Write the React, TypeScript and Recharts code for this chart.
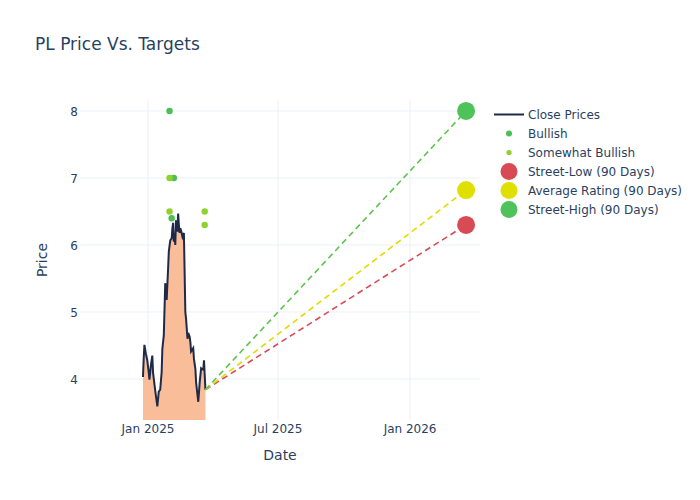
import React from 'react';
import { ComposedChart, Area, Line, Scatter, XAxis, YAxis, CartesianGrid } from 'recharts';

const closeDates = [
  '2024-12-25', '2024-12-26', '2024-12-27', '2024-12-29', '2024-12-31', '2025-01-02', '2025-01-03',
  '2025-01-05', '2025-01-07', '2025-01-08', '2025-01-10', '2025-01-12', '2025-01-14', '2025-01-15',
  '2025-01-16', '2025-01-18', '2025-01-20', '2025-01-21', '2025-01-23', '2025-01-25', '2025-01-26',
  '2025-01-27', '2025-01-29', '2025-01-30', '2025-02-01', '2025-02-03', '2025-02-04', '2025-02-05',
  '2025-02-06', '2025-02-07', '2025-02-08', '2025-02-09', '2025-02-11', '2025-02-12', '2025-02-13',
  '2025-02-14', '2025-02-15', '2025-02-16', '2025-02-18', '2025-02-20', '2025-02-21', '2025-02-22',
  '2025-02-23', '2025-02-24', '2025-02-25', '2025-02-26', '2025-02-28', '2025-03-01', '2025-03-02',
  '2025-03-05', '2025-03-06', '2025-03-08', '2025-03-09', '2025-03-12', '2025-03-13', '2025-03-14',
  '2025-03-16', '2025-03-17', '2025-03-19', '2025-03-20', '2025-03-22',
];
const closeValues = [
  4.03, 4.3, 4.51, 4.38, 4.28, 4.1, 3.99,
  4.2, 4.35, 4.1, 3.92, 3.75, 3.59, 3.7,
  3.81, 3.84, 4.1, 4.45, 4.65, 5.43, 5.35,
  5.18, 5.65, 5.9, 6.07, 6.1, 6.25, 6.33,
  6.05, 6.18, 6.0, 6.37, 6.2, 6.47, 6.3,
  6.18, 6.25, 6.22, 6.12, 6.18, 5.6, 5.0,
  4.9, 4.75, 4.6, 4.69, 4.63, 4.55, 4.41,
  4.46, 4.3, 4.15, 3.95, 3.66, 3.8, 3.95,
  4.16, 4.15, 4.14, 4.28, 3.84,
];

const bullishDates = ['2025-01-31', '2025-02-06', '2025-02-03'];
const bullishValues = [8, 7, 6.4];
const somewhatDates = ['2025-01-31', '2025-01-31', '2025-03-21', '2025-03-21'];
const somewhatValues = [7, 6.5, 6.5, 6.3];

const targetDate = '2026-03-20';
const targetNames = ['Street-Low (90 Days)', 'Average Rating (90 Days)', 'Street-High (90 Days)'];
const targetValues = [6.3, 6.82, 8];
const targetColors = ['#d84b55', '#e0e000', '#4fc35a'];
const lineColors = ['#d84b55', '#e0dc00', '#5cc44c'];

const xTickDates = ['2025-01-01', '2025-07-01', '2026-01-01'];
const yTicks = [4, 5, 6, 7, 8];

const DAY = 86400000;
const ts = (s: string) => Date.parse(s + 'T00:00:00Z');
const T0 = ts('2025-01-01');
const xDomain = [T0 - 94.7 * DAY, T0 + 462.4 * DAY];
const yDomain = [3.388, 8.164];
const MONTHS = ['Jan', 'Feb', 'Mar', 'Apr', 'May', 'Jun', 'Jul', 'Aug', 'Sep', 'Oct', 'Nov', 'Dec'];

const closeData = closeDates.map((d, i) => ({ t: ts(d), close: closeValues[i] }));
const bullishData = bullishDates.map((d, i) => ({ t: ts(d), v: bullishValues[i] }));
const somewhatData = somewhatDates.map((d, i) => ({ t: ts(d), v: somewhatValues[i] }));
const lastClose = closeData[closeData.length - 1];
const targetLines = targetValues.map((v) => [
  { t: lastClose.t, v: lastClose.close },
  { t: ts(targetDate), v },
]);
const targetPoints = targetValues.map((v) => [{ t: ts(targetDate), v }]);

const FONT = '"DejaVu Sans", Verdana, sans-serif';
const TXT = '#2a3f5f';

const dot = (r: number, color: string) => (p: any) => (
  <circle cx={p.cx} cy={p.cy} r={r} fill={color} />
);

const legendItems = [
  { label: 'Close Prices', kind: 'line', color: '#1f2a48' },
  { label: 'Bullish', kind: 'dot', r: 3, color: '#4cbf55' },
  { label: 'Somewhat Bullish', kind: 'dot', r: 2.6, color: '#8fd12e' },
  ...targetNames.map((n, i) => ({ label: n, kind: 'dot', r: 8.5, color: targetColors[i] })),
];

export default function App() {
  return (
    <div style={{ position: 'absolute', left: 0, top: 0, width: 700, height: 500, background: '#fff', fontFamily: FONT }}>
      <div style={{ position: 'absolute', left: 35, top: 34, fontSize: 17, color: TXT, whiteSpace: 'nowrap' }}>
        PL Price Vs. Targets
      </div>
      <ComposedChart width={700} height={500} margin={{ top: 100, right: 220, bottom: 0, left: 0 }}>
        <CartesianGrid
          stroke="#ebf0f8"
          strokeWidth={1}
          horizontalValues={yTicks}
          verticalValues={xTickDates.map(ts)}
        />
        <XAxis
          dataKey="t"
          type="number"
          domain={xDomain}
          allowDataOverflow
          ticks={xTickDates.map(ts)}
          tickFormatter={(v: number) => {
            const d = new Date(v);
            return MONTHS[d.getUTCMonth()] + ' ' + d.getUTCFullYear();
          }}
          height={80}
          axisLine={false}
          tickLine={false}
          tickSize={4}
          tickMargin={0}
          tick={{ fill: TXT, fontSize: 12, fontFamily: FONT }}
          label={{ value: 'Date', position: 'insideTop', offset: 30, fill: TXT, fontSize: 14, fontFamily: FONT }}
        />
        <YAxis
          type="number"
          domain={yDomain}
          allowDataOverflow
          ticks={yTicks}
          width={80}
          axisLine={false}
          tickLine={false}
          tickSize={2}
          tickMargin={0}
          tick={{ fill: TXT, fontSize: 12, fontFamily: FONT, dy: 1 }}
          label={{
            content: () => (
              <text x={42} y={260} transform="rotate(-90 42 260)" textAnchor="middle" dominantBaseline="central" fill={TXT} fontSize={14} fontFamily={FONT}>
                Price
              </text>
            ),
          }}
        />
        <Area
          data={closeData}
          dataKey="close"
          type="linear"
          stroke="#1f2a48"
          strokeWidth={2}
          fill="#f9bd9a"
          fillOpacity={1}
          isAnimationActive={false}
          dot={false}
          activeDot={false}
        />
        {targetLines.map((d, i) => (
          <Line
            key={'l' + i}
            data={d}
            dataKey="v"
            type="linear"
            stroke={lineColors[i]}
            strokeWidth={1.6}
            strokeDasharray="6 4"
            dot={false}
            activeDot={false}
            isAnimationActive={false}
          />
        ))}
        <Scatter data={bullishData} dataKey="v" fill="#4cbf55" shape={dot(3.2, '#4cbf55')} isAnimationActive={false} />
        <Scatter data={somewhatData} dataKey="v" fill="#8fd12e" shape={dot(3.2, '#8fd12e')} isAnimationActive={false} />
        {targetPoints.map((d, i) => (
          <Scatter key={'p' + i} data={d} dataKey="v" fill={targetColors[i]} shape={dot(9, targetColors[i])} isAnimationActive={false} />
        ))}
      </ComposedChart>
      <div style={{ position: 'absolute', left: 492, top: 105, fontSize: 12, color: TXT }}>
        {legendItems.map((it) => (
          <div key={it.label} style={{ display: 'flex', alignItems: 'center', height: 19, whiteSpace: 'nowrap' }}>
            <svg width={36} height={19} style={{ display: 'block' }}>
              {it.kind === 'line' ? (
                <line x1={2} x2={32} y1={9.5} y2={9.5} stroke={it.color} strokeWidth={2} />
              ) : (
                <circle cx={17} cy={9.5} r={(it as any).r} fill={it.color} />
              )}
            </svg>
            <span>{it.label}</span>
          </div>
        ))}
      </div>
    </div>
  );
}
